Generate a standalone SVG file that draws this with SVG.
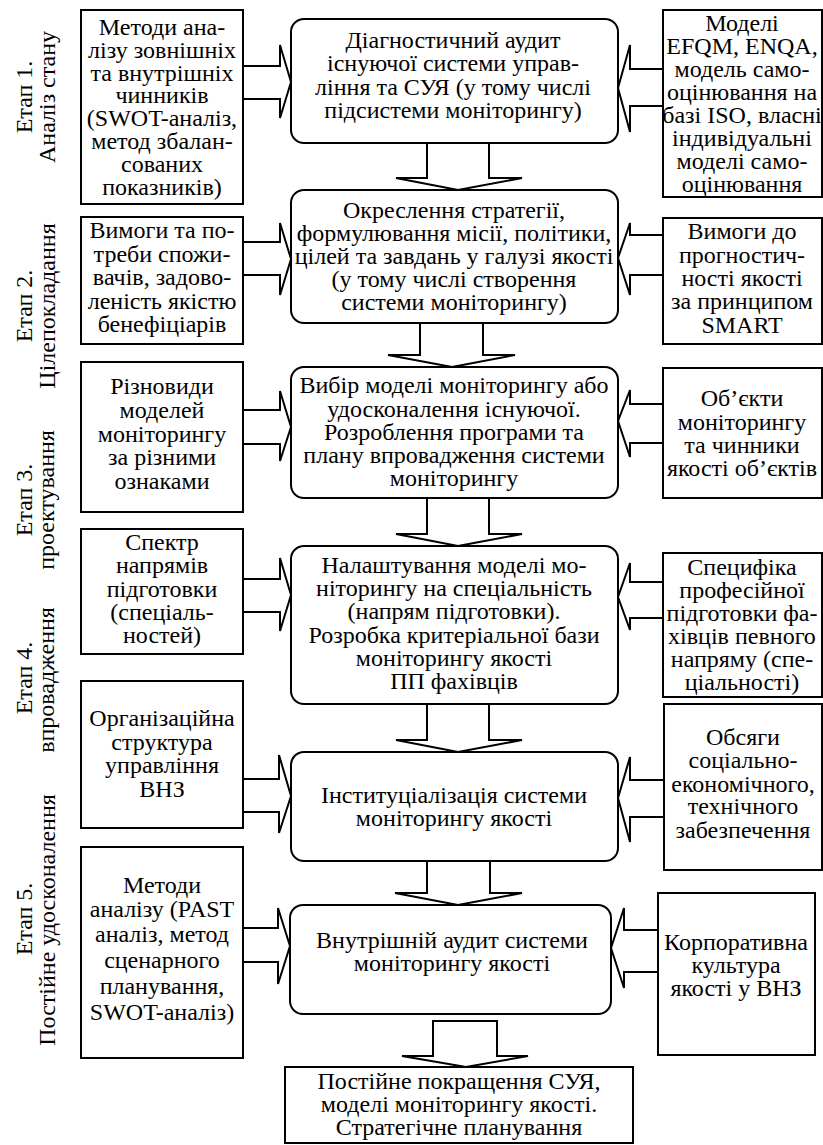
<svg xmlns="http://www.w3.org/2000/svg" width="823" height="1145" viewBox="0 0 823 1145" font-family="'Liberation Serif', 'Times New Roman', Times, serif" font-size="24">
  <style>
    text { fill: #000; text-anchor: middle; }
    .box { fill: #fff; stroke: #000; stroke-width: 2; }
    .arrow { fill: #fff; stroke: #000; stroke-width: 2; stroke-linejoin: miter; }
  </style>
  <rect x="0" y="0" width="823" height="1145" fill="#fff"/>

  <!-- stage captions, rotated -->
  <g id="stages">
    <text transform="translate(32,97) rotate(-90)">Етап 1.</text>
    <text transform="translate(55,97) rotate(-90)">Аналіз стану</text>
    <text transform="translate(32,306) rotate(-90)">Етап 2.</text>
    <text transform="translate(55,306) rotate(-90)">Цілепокладання</text>
    <text transform="translate(32,500) rotate(-90)">Етап 3.</text>
    <text transform="translate(54,500) rotate(-90)">проектування</text>
    <text transform="translate(32,678) rotate(-90)">Етап 4.</text>
    <text transform="translate(54,680) rotate(-90)">впровадження</text>
    <text transform="translate(32,919) rotate(-90)">Етап 5.</text>
    <text transform="translate(55,920) rotate(-90)">Постійне удосконалення</text>
  </g>

  <!-- block arrows -->
  <g id="connectors">
    <!-- left inputs -->
    <path class="arrow" d="M243,66 H280 V45 L291,82 L280,118 V99 H243"/>
    <path class="arrow" d="M243,242 H280 V223 L291,259 L280,295 V275 H243"/>
    <path class="arrow" d="M243,410 H280 V391 L291,427 L280,461 V444 H243"/>
    <path class="arrow" d="M243,579 H280 V558 L291,595 L280,631 V612 H243"/>
    <path class="arrow" d="M243,779 H279 V755 L291,796 L279,833 V812 H243"/>
    <path class="arrow" d="M243,928 H278 V908 L290,946 L278,984 V962 H243"/>
    <!-- right inputs -->
    <path class="arrow" d="M663,69 H630 V45 L618,88 L630,132 V106 H663"/>
    <path class="arrow" d="M663,235 H630 V223 L618,258 L630,295 V275 H663"/>
    <path class="arrow" d="M663,404 H630 V390 L618,421 L630,457 V443 H663"/>
    <path class="arrow" d="M663,582 H630 V563 L618,597 L630,630 V618 H663"/>
    <path class="arrow" d="M664,780 H630 V757 L618,798 L630,842 V817 H664"/>
    <path class="arrow" d="M658,930 H624 V908 L611,948 L624,988 V972 H658"/>
    <!-- downward flow -->
    <path class="arrow" d="M427,143 V178 H396 L458,190 L522,178 H489 V143"/>
    <path class="arrow" d="M420,323 V355 H388 L452,367 L515,355 H483 V323"/>
    <path class="arrow" d="M427,498 V534 H396 L458,546 L522,534 H489 V498"/>
    <path class="arrow" d="M427,704 V740 H396 L458,752 L522,740 H489 V704"/>
    <path class="arrow" d="M427,861 V893 H395 L458,905 L522,893 H490 V861"/>
    <path class="arrow" d="M433,1021 V1056 H402 L466,1067 L528,1056 H497 V1021 Z"/>
  </g>

  <!-- left column -->
  <g id="left-1">
    <rect class="box" x="81" y="10" width="162" height="194"/>
    <text x="162" y="35">Методи ана-</text>
    <text x="162" y="58">лізу зовнішніх</text>
    <text x="162" y="81">та внутрішніх</text>
    <text x="162" y="103">чинників</text>
    <text x="162" y="126">(SWOT-аналіз,</text>
    <text x="162" y="149">метод збалан-</text>
    <text x="162" y="172">сованих</text>
    <text x="162" y="195">показників)</text>
  </g>
  <g id="left-2">
    <rect class="box" x="81" y="217" width="162" height="127"/>
    <text x="162" y="238">Вимоги та по-</text>
    <text x="162" y="262">треби спожи-</text>
    <text x="162" y="285">вачів, задово-</text>
    <text x="162" y="309">леність якістю</text>
    <text x="162" y="332">бенефіціарів</text>
  </g>
  <g id="left-3">
    <rect class="box" x="81" y="362" width="162" height="150"/>
    <text x="162" y="394">Різновиди</text>
    <text x="162" y="418">моделей</text>
    <text x="162" y="442">моніторингу</text>
    <text x="162" y="465">за різними</text>
    <text x="162" y="489">ознаками</text>
  </g>
  <g id="left-4">
    <rect class="box" x="81" y="529" width="162" height="125"/>
    <text x="162" y="550">Спектр</text>
    <text x="162" y="573">напрямів</text>
    <text x="162" y="597">підготовки</text>
    <text x="162" y="620">(спеціаль-</text>
    <text x="162" y="643">ностей)</text>
  </g>
  <g id="left-5">
    <rect class="box" x="81" y="681" width="162" height="147"/>
    <text x="162" y="726">Організаційна</text>
    <text x="162" y="750">структура</text>
    <text x="162" y="773">управління</text>
    <text x="162" y="797">ВНЗ</text>
  </g>
  <g id="left-6">
    <rect class="box" x="81" y="847" width="162" height="211"/>
    <text x="162" y="893">Методи</text>
    <text x="162" y="917">аналізу (PAST</text>
    <text x="162" y="942">аналіз, метод</text>
    <text x="162" y="968">сценарного</text>
    <text x="162" y="994">планування,</text>
    <text x="162" y="1020">SWOT-аналіз)</text>
  </g>

  <!-- central flow -->
  <g id="step-1">
    <rect class="box" x="291" y="19" width="327" height="124" rx="13"/>
    <text x="453" y="48">Діагностичний аудит</text>
    <text x="453" y="71">існуючої системи управ-</text>
    <text x="453" y="95">ління та СУЯ (у тому числі</text>
    <text x="453" y="118">підсистеми моніторингу)</text>
  </g>
  <g id="step-2">
    <rect class="box" x="291" y="190" width="327" height="133" rx="13"/>
    <text x="454" y="218">Окреслення стратегії,</text>
    <text x="454" y="241">формулювання місії, політики,</text>
    <text x="454" y="264">цілей та завдань у галузі якості</text>
    <text x="454" y="287">(у тому числі створення</text>
    <text x="454" y="310">системи моніторингу)</text>
  </g>
  <g id="step-3">
    <rect class="box" x="291" y="367" width="327" height="131" rx="13"/>
    <text x="454" y="393">Вибір моделі моніторингу або</text>
    <text x="454" y="417">удосконалення існуючої.</text>
    <text x="454" y="440">Розроблення програми та</text>
    <text x="454" y="463">плану впровадження системи</text>
    <text x="454" y="486">моніторингу</text>
  </g>
  <g id="step-4">
    <rect class="box" x="291" y="546" width="327" height="158" rx="13"/>
    <text x="454" y="573">Налаштування моделі мо-</text>
    <text x="454" y="596">ніторингу на спеціальність</text>
    <text x="454" y="619">(напрям підготовки).</text>
    <text x="454" y="643">Розробка критеріальної бази</text>
    <text x="454" y="666">моніторингу якості</text>
    <text x="454" y="689">ПП фахівців</text>
  </g>
  <g id="step-5">
    <rect class="box" x="291" y="752" width="327" height="109" rx="13"/>
    <text x="454" y="803">Інституціалізація системи</text>
    <text x="454" y="826">моніторингу якості</text>
  </g>
  <g id="step-6">
    <rect class="box" x="290" y="905" width="321" height="109" rx="13"/>
    <text x="452" y="948">Внутрішній аудит системи</text>
    <text x="452" y="971">моніторингу якості</text>
  </g>
  <g id="result">
    <rect class="box" x="285" y="1067" width="348" height="76"/>
    <text x="459" y="1089">Постійне покращення СУЯ,</text>
    <text x="459" y="1112">моделі моніторингу якості.</text>
    <text x="459" y="1135">Стратегічне планування</text>
  </g>

  <!-- right column -->
  <g id="right-1">
    <rect class="box" x="663" y="10" width="159" height="187"/>
    <text x="742" y="31">Моделі</text>
    <text x="742" y="54">EFQM, ENQA,</text>
    <text x="742" y="77">модель само-</text>
    <text x="742" y="100">оцінювання на</text>
    <text x="742" y="123">базі ISO, власні</text>
    <text x="742" y="146">індивідуальні</text>
    <text x="742" y="169">моделі само-</text>
    <text x="742" y="192">оцінювання</text>
  </g>
  <g id="right-2">
    <rect class="box" x="663" y="218" width="159" height="126"/>
    <text x="742" y="239">Вимоги до</text>
    <text x="742" y="263">прогностич-</text>
    <text x="742" y="286">ності якості</text>
    <text x="742" y="309">за принципом</text>
    <text x="742" y="333">SMART</text>
  </g>
  <g id="right-3">
    <rect class="box" x="663" y="368" width="159" height="130"/>
    <text x="742" y="406">Об’єкти</text>
    <text x="742" y="430">моніторингу</text>
    <text x="742" y="453">та чинники</text>
    <text x="742" y="476">якості об’єктів</text>
  </g>
  <g id="right-4">
    <rect class="box" x="663" y="553" width="159" height="144"/>
    <text x="742" y="575">Специфіка</text>
    <text x="742" y="598">професійної</text>
    <text x="742" y="621">підготовки фа-</text>
    <text x="742" y="644">хівців певного</text>
    <text x="742" y="667">напряму (спе-</text>
    <text x="742" y="690">ціальності)</text>
  </g>
  <g id="right-5">
    <rect class="box" x="664" y="704" width="158" height="166"/>
    <text x="743" y="745">Обсяги</text>
    <text x="743" y="768">соціально-</text>
    <text x="743" y="792">економічного,</text>
    <text x="743" y="814">технічного</text>
    <text x="743" y="838">забезпечення</text>
  </g>
  <g id="right-6">
    <rect class="box" x="658" y="893" width="157" height="162"/>
    <text x="736" y="950">Корпоративна</text>
    <text x="736" y="973">культура</text>
    <text x="736" y="996">якості у ВНЗ</text>
  </g>
</svg>
